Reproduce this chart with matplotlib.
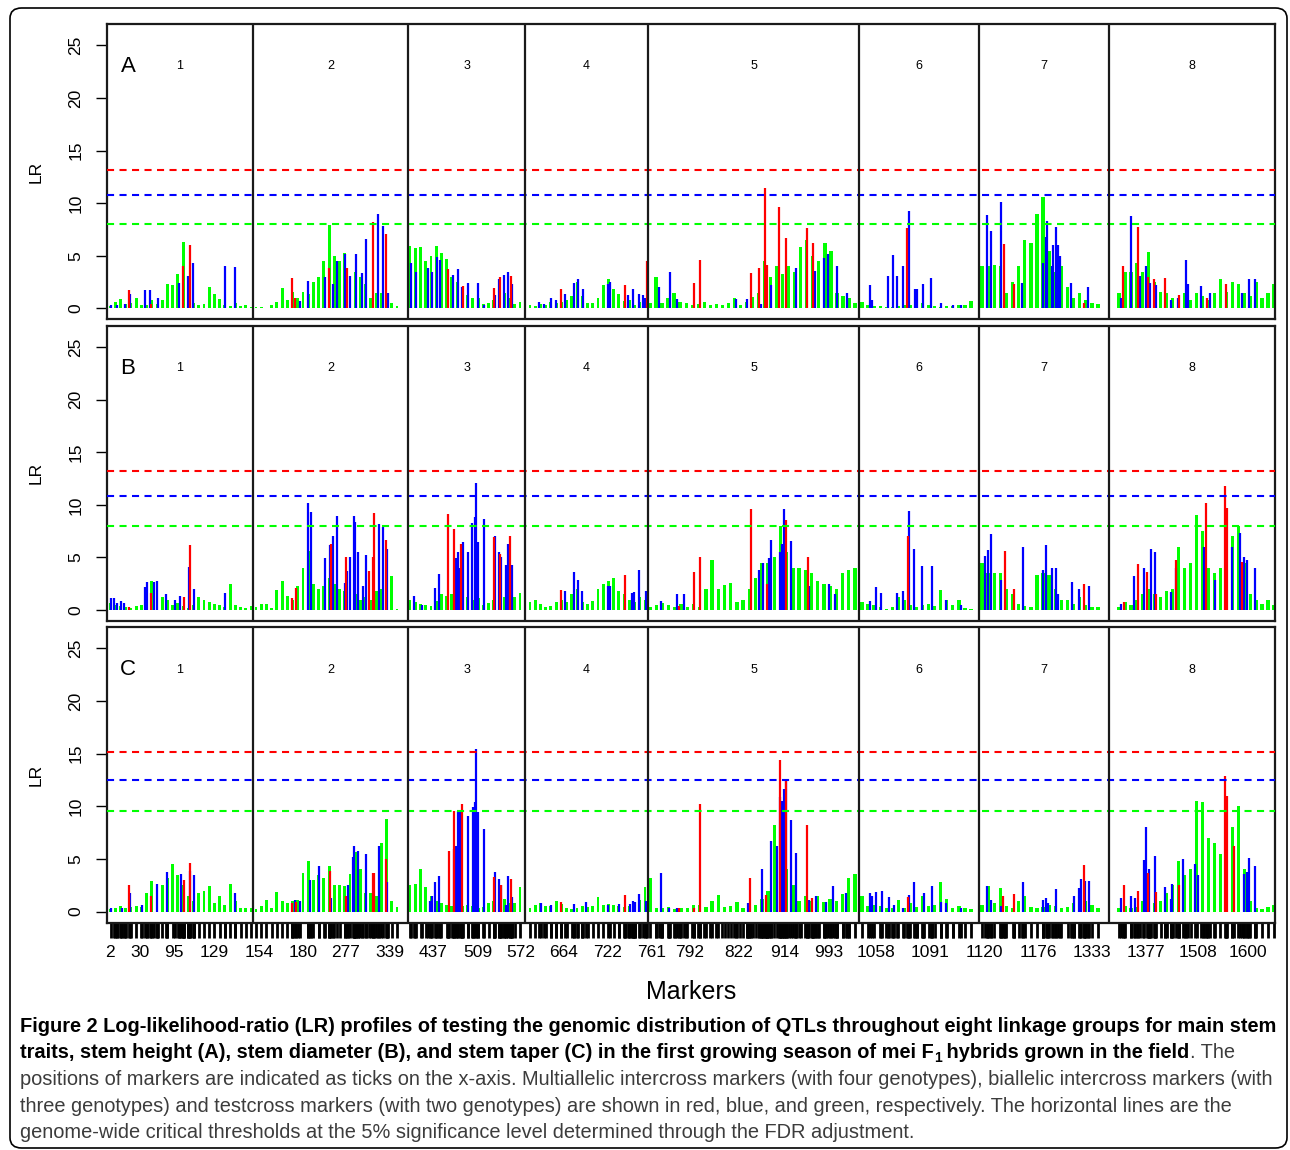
import numpy as np
import matplotlib.pyplot as plt
from matplotlib import font_manager
from matplotlib.patches import FancyBboxPatch

plt.rcParams['font.family'] = ['Liberation Sans', 'DejaVu Sans']

# ---- DATA ----
group_names = ['1', '2', '3', '4', '5', '6', '7', '8']
group_len = [146, 155, 117, 123, 211, 120, 130, 166]
# first / last marker position of each linkage group
green_span = [(3, 144), (149, 290), (303, 413), (423, 538), (543, 748), (755, 864), (875, 991), (1012, 1167)]

thr_AB = [13.2, 10.8, 8.0]   # red, blue, green thresholds (A, B)
thr_C = [15.2, 12.5, 9.6]    # thresholds for C

tick_pos = [3, 33, 67, 107, 152, 196, 239, 283, 326, 371, 414, 457, 501, 545, 583, 632,
            678, 722, 769, 823, 877, 931, 985, 1039, 1091, 1141]
tick_lab = ['2', '30', '95', '129', '154', '180', '277', '339', '437', '509', '572', '664', '722',
            '761', '792', '822', '914', '993', '1058', '1091', '1120', '1176', '1333', '1377',
            '1508', '1600']

# testcross markers (green), LR per group
green_A = [
    [0.2, 0.6, 0.9, 0.4, 0.5, 1.0, 0.3, 0.3, 0.8, 0.4, 0.8, 2.3, 2.2, 3.3, 6.3, 1.5, 0.5, 0.3, 0.4, 2.0, 1.4, 0.9, 0.3, 0.2, 0.5, 0.2, 0.3, 0.1],
    [0.1, 0.1, 0.05, 0.3, 0.6, 1.9, 0.8, 1.6, 1.0, 1.6, 1.4, 2.5, 3.0, 4.5, 7.9, 5.0, 4.5, 5.3, 3.0, 3.5, 3.0, 2.3, 1.0, 1.5, 1.5, 1.5, 0.5, 0.2],
    [5.9, 5.7, 5.8, 4.5, 5.0, 5.9, 5.3, 4.7, 3.0, 2.5, 2.0, 1.3, 1.0, 1.0, 0.4, 0.5, 0.8, 1.5, 1.5, 1.0, 0.4, 0.6],
    [0.3, 0.2, 0.4, 0.3, 0.6, 0.5, 0.6, 0.8, 1.2, 2.5, 1.2, 0.5, 0.5, 1.0, 2.2, 2.8, 1.8, 1.4, 0.7, 0.8, 0.3, 0.6, 0.8],
    [0.5, 3.0, 0.5, 1.0, 1.5, 0.6, 0.5, 0.3, 0.4, 0.6, 0.3, 0.4, 0.3, 0.5, 1.0, 0.3, 0.6, 1.1, 1.5, 4.5, 3.0, 4.0, 3.3, 4.0, 3.5, 5.8, 6.5, 5.0, 4.5, 6.2, 5.5, 1.5, 1.2, 1.0, 0.5],
    [0.6, 0.3, 0.2, 0.2, 0.1, 0.1, 0.2, 0.3, 0.3, 0.3, 0.5, 0.3, 0.2, 0.1, 0.2, 0.2, 0.3, 0.3, 0.7],
    [4.0, 4.0, 4.1, 4.0, 1.5, 2.5, 4.0, 6.5, 6.2, 9.0, 10.6, 5.5, 3.5, 4.0, 2.0, 1.0, 1.5, 0.8, 0.5, 0.4],
    [1.5, 3.5, 3.5, 4.3, 3.5, 5.4, 2.5, 1.6, 1.5, 1.0, 0.8, 1.5, 0.8, 1.5, 1.2, 0.8, 1.5, 2.8, 1.6, 2.5, 2.3, 1.5, 1.2, 2.5, 1.0, 1.5, 2.3],
]
green_B = [
    [0.7, 0.5, 0.4, 0.3, 0.2, 0.4, 0.5, 2.0, 2.8, 2.6, 1.2, 1.0, 0.5, 0.7, 0.4, 0.2, 0.5, 1.2, 1.0, 0.8, 0.6, 0.5, 0.3, 2.5, 0.5, 0.3, 0.2, 0.4],
    [0.3, 0.6, 0.6, 0.2, 1.9, 2.8, 1.3, 1.0, 2.3, 4.0, 5.6, 2.5, 2.0, 2.3, 3.0, 2.5, 2.0, 1.8, 1.5, 1.5, 1.0, 1.2, 1.0, 1.8, 2.0, 2.5, 3.2, 0.1],
    [1.0, 0.8, 0.6, 0.5, 0.4, 0.9, 1.5, 1.3, 1.5, 0.8, 0.7, 1.2, 1.0, 1.1, 0.5, 0.7, 1.0, 1.5, 1.2, 1.1, 1.2, 1.6],
    [0.8, 1.0, 0.6, 0.3, 0.4, 0.8, 1.0, 0.8, 1.5, 2.0, 0.8, 0.6, 0.9, 2.0, 2.5, 2.8, 3.0, 1.8, 1.5, 1.0, 0.8, 1.2, 1.0],
    [0.3, 0.5, 0.7, 0.5, 0.3, 0.6, 0.3, 0.6, 0.3, 2.0, 4.8, 2.0, 2.4, 2.6, 0.8, 1.0, 2.0, 3.0, 4.5, 4.5, 5.0, 8.0, 5.5, 4.0, 4.0, 3.8, 3.5, 2.8, 2.5, 2.3, 2.0, 3.5, 3.8, 4.0],
    [0.8, 0.6, 0.5, 0.3, 0.1, 0.3, 1.2, 1.0, 0.5, 0.3, 0.5, 0.6, 0.4, 1.9, 1.0, 0.5, 1.0, 0.2, 0.1],
    [4.5, 3.5, 3.5, 3.5, 2.0, 1.5, 0.6, 0.4, 0.3, 3.3, 3.5, 3.3, 2.0, 1.0, 1.0, 0.6, 1.2, 0.5, 0.3, 0.3],
    [0.3, 0.8, 0.5, 1.0, 1.5, 2.0, 1.5, 1.2, 1.8, 2.0, 6.0, 4.0, 4.5, 9.0, 7.5, 4.0, 3.5, 4.0, 6.5, 7.0, 8.0, 4.5, 1.5, 1.0, 0.6, 1.0, 0.5],
]
green_C = [
    [0.2, 0.3, 0.5, 0.3, 0.4, 0.5, 0.4, 1.8, 2.9, 1.8, 2.5, 3.2, 4.5, 3.5, 2.5, 1.5, 1.0, 1.8, 2.0, 2.4, 0.8, 1.5, 0.6, 2.6, 1.0, 0.3, 0.3, 0.3],
    [0.2, 0.5, 1.1, 0.3, 1.9, 1.0, 0.8, 1.0, 1.1, 3.7, 4.8, 3.0, 3.5, 3.2, 4.3, 2.5, 2.5, 2.4, 3.6, 5.7, 4.0, 1.8, 1.8, 1.5, 6.5, 8.8, 1.0, 0.4],
    [2.5, 2.6, 4.0, 2.3, 1.5, 1.0, 0.8, 0.6, 0.5, 0.8, 0.5, 0.6, 0.5, 0.3, 0.4, 0.8, 1.0, 0.6, 1.2, 0.8, 0.8, 2.3],
    [0.3, 0.6, 0.8, 0.5, 0.5, 1.0, 0.7, 0.3, 0.2, 0.3, 0.5, 0.4, 0.5, 1.4, 0.6, 0.7, 0.6, 0.5, 0.4, 0.5, 0.8, 1.1, 2.3],
    [3.2, 0.3, 0.3, 0.4, 0.2, 0.3, 0.3, 0.6, 0.6, 0.4, 1.0, 1.6, 0.4, 0.5, 0.9, 0.3, 0.5, 0.6, 1.2, 2.0, 8.2, 6.0, 4.0, 2.5, 1.0, 1.5, 1.0, 1.5, 0.9, 1.2, 1.0, 1.7, 3.2, 3.6],
    [1.5, 0.5, 0.6, 0.5, 0.3, 0.3, 1.1, 0.3, 0.8, 0.4, 1.5, 0.5, 0.6, 2.8, 1.2, 0.3, 0.5, 0.3, 0.2],
    [0.6, 2.4, 0.8, 2.2, 0.5, 0.3, 1.0, 1.5, 0.4, 0.3, 0.4, 0.6, 0.5, 0.3, 0.4, 0.8, 1.2, 1.0, 0.6, 0.3],
    [0.3, 0.5, 0.3, 0.4, 1.0, 1.5, 0.8, 1.0, 1.8, 2.5, 4.8, 3.5, 4.0, 10.5, 10.4, 7.0, 6.5, 5.5, 6.5, 8.0, 10.0, 4.0, 1.0, 0.3, 0.2, 0.4, 0.6],
]

# biallelic intercross markers (blue): (position, LR)
blue_A = [(4, 0.3), (10, 0.3), (18, 0.4), (23, 1.4), (38, 1.7), (43, 1.7), (51, 1.0), (72, 2.4), (81, 3.1), (86, 4.3), (118, 4.0), (128, 3.9),
          (193, 0.7), (201, 2.6), (218, 3.0), (226, 2.3), (230, 4.5), (238, 5.2), (243, 3.1), (249, 5.2), (255, 3.4), (259, 6.6), (271, 9.0), (276, 7.8), (281, 1.5),
          (304, 4.3), (309, 3.5), (321, 3.8), (325, 3.5), (330, 4.9), (333, 4.6), (346, 3.2), (351, 3.7), (355, 2.0), (361, 2.4), (371, 2.4), (377, 0.3), (388, 1.3), (392, 2.8), (397, 3.2), (401, 3.5), (405, 2.3),
          (432, 0.6), (437, 0.4), (444, 1.0), (449, 0.8), (458, 1.4), (467, 2.4), (471, 2.8), (476, 1.8), (501, 2.3), (503, 2.5), (521, 1.3), (526, 1.8), (532, 1.4), (536, 1.3), (538, 1.0),
          (552, 2.0), (563, 3.5), (570, 0.9), (629, 0.9), (640, 0.9), (654, 0.4), (664, 2.2), (689, 3.8), (708, 3.6), (717, 4.8), (721, 5.2), (730, 4.0), (740, 1.5),
          (763, 2.2), (765, 0.8), (781, 3.1), (786, 5.1), (790, 3.1), (796, 4.0), (802, 9.3), (808, 1.8), (810, 1.8), (816, 2.3), (824, 2.9), (834, 0.5), (846, 0.3), (854, 0.3),
          (880, 8.9), (884, 7.4), (894, 10.1), (915, 2.4), (936, 4.3), (939, 6.8), (940, 8.3), (945, 4.0), (946, 6.0), (949, 7.7), (951, 6.0), (953, 5.0), (964, 2.4), (981, 2.0),
          (1014, 1.0), (1024, 8.8), (1033, 3.1), (1039, 4.0), (1043, 2.4), (1049, 2.2), (1064, 0.8), (1071, 1.0), (1079, 4.6), (1081, 2.3), (1094, 2.1), (1103, 1.5), (1135, 1.5), (1142, 2.8), (1148, 2.8)]
blue_B = [(4, 1.1), (7, 1.1), (9.5, 0.7), (13.6, 0.9), (17, 0.7), (38, 2.2), (40, 2.7), (47, 2.7), (50, 2.8), (59, 1.5), (67.5, 1.0), (73, 1.3), (82, 4.1), (87, 2.0), (118, 1.6),
          (201, 10.2), (204, 9.3), (218, 4.9), (223, 6.2), (226, 7.0), (230, 8.9), (238, 2.6), (240, 3.7), (243, 5.0), (246.5, 8.9), (248, 8.4), (251, 5.5), (256, 2.3), (259, 5.2), (272, 8.2), (276, 7.9), (279.5, 5.8),
          (307, 1.3), (315, 0.5), (328, 2.1), (332, 3.4), (349, 4.9), (351, 5.5), (352.5, 4.0), (356, 6.5), (361, 5.5), (365, 8.3), (367.5, 8.8), (369, 12.1), (371, 6.5), (377, 8.7), (388, 7.0), (391.5, 5.5), (394, 5.0), (399, 4.3), (401, 6.3), (405, 4.3),
          (458, 1.8), (466.5, 3.6), (471, 2.9), (475, 1.8), (501, 2.3), (503, 2.3), (525, 1.6), (527, 1.7), (532, 3.8), (538.5, 1.8),
          (554, 0.9), (570, 1.5), (576.5, 1.5), (652, 3.8), (655.5, 4.5), (661.5, 4.9), (663.6, 6.7), (673, 5.5), (675, 6.3), (676.5, 9.6), (684, 6.6), (702, 2.3), (722, 2.5), (728, 1.5),
          (763, 0.9), (769, 2.2), (774, 1.6), (790, 1.6), (796, 1.8), (802, 9.4), (807, 5.8), (815, 4.2), (825, 4.2), (838.5, 1.0), (854, 0.5),
          (878, 5.1), (880.6, 5.7), (883.5, 7.2), (893.6, 2.9), (915.5, 6.0), (935.7, 3.8), (939, 6.2), (945, 4.0), (949, 4.0), (951, 1.5), (965, 2.7), (972, 2.0), (981.5, 2.3),
          (1014, 0.6), (1027, 3.2), (1037, 4.0), (1044, 5.8), (1047.5, 5.5), (1064, 1.7), (1069, 4.0), (1097, 6.0), (1108, 2.9), (1124.5, 6.0), (1133, 7.3), (1136.6, 5.0), (1140, 4.8), (1147.5, 4.0)]
blue_C = [(4, 0.3), (15, 0.3), (23, 1.8), (34.5, 0.6), (49.5, 2.6), (60, 3.8), (74, 3.6), (82.5, 3.9), (86.6, 3.5), (128, 1.8),
          (188, 1.1), (193, 1.0), (203, 3.0), (212, 4.3), (224, 1.3), (241, 2.5), (245.5, 5.2), (247, 6.2), (250.7, 5.8), (258.7, 5.5), (272, 6.2), (279.5, 2.8),
          (323, 1.0), (325, 1.5), (328, 2.8), (332, 3.4), (347, 5.9), (349, 6.2), (351, 9.6), (352.5, 9.6), (354, 7.4), (361, 9.1), (366, 9.9), (367.5, 10.4), (369, 15.4), (370.6, 9.5), (377, 7.8), (388, 3.8), (392, 3.1), (394, 2.5), (398.8, 0.6), (401, 3.4), (404.7, 1.4),
          (433.5, 0.8), (444, 0.6), (466.5, 0.7), (479, 0.9), (501, 0.6), (511.7, 0.7), (523, 0.7), (525.6, 1.0), (528, 0.9), (532, 1.7), (538.5, 1.0),
          (554, 3.7), (562, 0.3), (570, 0.3), (640.5, 0.8), (654.6, 4.0), (663.6, 6.7), (669.6, 6.2), (673, 10.9), (675, 10.5), (677, 11.6), (678.5, 12.5), (684, 8.7), (688.7, 5.6), (702, 1.1), (709, 1.5), (719.4, 0.9), (726, 2.4), (738.5, 1.8),
          (763, 1.8), (765, 1.5), (769, 1.9), (775, 2.0), (782, 1.4), (787, 0.6), (796, 0.3), (802, 1.6), (807, 2.8), (816.7, 1.8), (824.7, 2.4), (833.6, 0.9), (838.5, 0.8), (854, 0.3),
          (880, 2.4), (884, 1.1), (893.6, 0.5), (915.5, 2.8), (935.7, 1.1), (939, 1.3), (941, 0.8), (949, 2.1), (967, 1.5), (972, 2.2), (974, 3.1), (977.5, 2.9), (981.5, 2.9),
          (1014, 1.3), (1024, 1.5), (1028, 1.3), (1037, 4.9), (1039, 8.0), (1042, 4.0), (1047.5, 5.3), (1057.6, 2.3), (1063.7, 1.2), (1065, 2.6), (1076, 5.0), (1088, 4.5), (1091, 3.5), (1136.6, 3.6), (1139.5, 3.8), (1142, 5.1), (1147.5, 4.3)]

# multiallelic intercross markers (red): (position, LR)
red_A = [(22, 1.75), (44, 0.4), (76, 4.0), (83, 6.0),
         (185, 2.9), (188, 1.0), (222, 3.8), (240, 3.8), (266, 8.2), (279, 7.1),
         (341, 3.7), (356, 2.1), (387, 1.9), (393, 3.0), (404, 3.1),
         (454, 1.8), (518, 2.2), (540, 4.5),
         (587, 2.4), (593, 4.6), (644, 3.4), (652, 3.8), (658, 11.4), (660, 4.1), (672, 9.6), (679, 6.7), (700, 7.6), (706, 6.2),
         (800, 7.6),
         (897, 6.1), (907, 2.3), (977, 0.5),
         (1016, 4.0), (1031, 7.7), (1041, 3.0), (1047, 2.8), (1058, 2.9), (1072, 1.3), (1100, 1.0), (1119, 2.3)]
red_B = [(22, 0.3), (44, 1.6), (77, 1.2), (83, 6.2),
         (185, 1.1), (189, 2.1), (224, 6.3), (239, 5.0), (262, 3.7), (265.6, 5.0), (267, 9.2), (279, 6.7),
         (341.4, 9.1), (346.6, 7.7), (354, 6.3), (386.6, 6.9), (393, 5.3), (403, 7.0),
         (454, 1.9), (517.6, 3.3),
         (571.6, 0.4), (587, 3.6), (592.7, 5.0), (644, 9.6), (659.5, 2.5), (678.5, 8.6), (701, 5.0),
         (800.5, 7.0),
         (897.7, 5.6), (906.6, 2.0), (976.6, 2.5),
         (1016.7, 0.8), (1031, 4.4), (1040, 3.6), (1049, 1.5), (1069, 4.8), (1099, 10.2), (1118, 11.8), (1120, 9.7), (1135, 4.6)]
red_C = [(22, 2.5), (44, 1.5), (76.5, 3.0), (83, 4.6),
         (184.7, 0.8), (189, 0.9), (223, 3.9), (239, 1.5), (265.6, 3.7), (267, 3.7), (279, 5.0),
         (342, 5.8), (346.6, 9.6), (355, 10.2), (386.6, 3.3), (393.5, 2.5), (404, 3.1),
         (454, 0.9), (517.6, 1.6),
         (571.6, 0.3), (587, 0.3), (592.7, 10.2), (643, 3.2), (658.7, 1.6), (672.5, 14.4), (679, 12.5), (700, 8.2), (705, 1.3),
         (800.5, 1.4),
         (896, 1.5), (906.6, 1.7), (976.6, 4.4),
         (1016.7, 2.5), (1031, 2.0), (1041, 3.7), (1049, 1.9), (1072, 2.5), (1118, 12.9), (1120, 11.0), (1127, 6.2)]

RED, BLUE, GREEN = '#FF0000', '#0000FF', '#00FF00'

W, H = 1290, 1150
fig = plt.figure(figsize=(W / 100, H / 100), dpi=100)

bounds = np.cumsum([0] + group_len)
panel_px = [(24, 319.3), (325.5, 621), (627, 922.5)]
panels = [('A', green_A, blue_A, red_A, thr_AB),
          ('B', green_B, blue_B, red_B, thr_AB),
          ('C', green_C, blue_C, red_C, thr_C)]

rug = []
for i, (letter, green, blue, red, thr) in enumerate(panels):
    top, bot = panel_px[i]
    ax = fig.add_axes([107 / W, 1 - bot / H, 1168 / W, (bot - top) / H])
    ax.set_xlim(0, bounds[-1])
    ax.set_ylim(-1.04, 27.04)

    for g in range(8):
        s, e = green_span[g]
        xs = np.linspace(s, e, len(green[g]))
        w = (e - s) / (len(green[g]) - 1)
        ax.bar(xs, green[g], width=w * 0.55, color=GREEN, linewidth=0, zorder=2)
        rug.extend(xs)
    bx, bh = zip(*blue)
    ax.vlines(bx, 0, bh, color=BLUE, lw=1.6, zorder=3)
    rx, rh = zip(*red)
    ax.vlines(rx, 0, rh, color=RED, lw=1.6, zorder=4)
    rug.extend(bx)
    rug.extend(rx)

    for t, c in zip(thr, [RED, BLUE, GREEN]):
        ax.axhline(t, color=c, lw=1.5, ls=(0, (3.4, 2.6)), zorder=5)
    for b in bounds[1:-1]:
        ax.axvline(b, color='#1a1a1a', lw=1.6, zorder=6)
    for g in range(8):
        ax.text((bounds[g] + bounds[g + 1]) / 2, 23, group_names[g], ha='center', va='center', fontsize=9)
    ax.text(21, 23, letter, ha='center', va='center', fontsize=16)

    for sp in ax.spines.values():
        sp.set_linewidth(1.6)
        sp.set_color('#1a1a1a')
    ax.set_yticks([0, 5, 10, 15, 20, 25])
    ax.tick_params(axis='y', length=8, width=1, pad=9, labelsize=12.5)
    for lab in ax.get_yticklabels():
        lab.set_rotation(90)
        lab.set_va('center')
    ax.set_ylabel('LR', fontsize=12.5)
    ax.yaxis.set_label_coords(-0.054, 0.5)

    if letter != 'C':
        ax.set_xticks([])
    else:
        ax.set_xticks(tick_pos)
        ax.set_xticklabels(tick_lab)
        ax.set_xticks(sorted(set(np.round(rug, 1))), minor=True)
        ax.tick_params(axis='x', which='major', length=0, pad=16, labelsize=12.5)
        ax.tick_params(axis='x', which='minor', length=11, width=2.0, color='black')

fig.text(691 / W, 1 - 992 / H, 'Markers', ha='center', va='center', fontsize=18)

# outer frame
frame = FancyBboxPatch((10 / W, 1 - 1148 / H), 1277 / W, 1140 / H,
                       boxstyle='round,pad=0,rounding_size=0.009', transform=fig.transFigure,
                       fill=False, lw=1.2, edgecolor='black')
fig.patches.append(frame)

# caption
names = {f.name for f in font_manager.fontManager.ttflist}
cap_font = 'Liberation Sans Narrow' if 'Liberation Sans Narrow' in names else 'Liberation Sans'
renderer = fig.canvas.get_renderer()

line1 = ('Figure 2 Log-likelihood-ratio (LR) profiles of testing the genomic distribution of QTLs '
         'throughout eight linkage groups for main stem')
t1 = fig.text(20 / W, 1 - 1032 / H, line1, fontfamily=cap_font, fontweight='bold', fontsize=14, va='baseline')
wpx = t1.get_window_extent(renderer).width
fs = 14 * 1258 / wpx
t1.set_fontsize(fs)

def put(x, y, s, bold, size, color):
    t = fig.text(x / W, 1 - y / H, s, fontfamily=cap_font, fontweight='bold' if bold else 'normal',
                 fontsize=size, va='baseline', color=color)
    return t.get_window_extent(renderer).x1

x = 20
x = put(x, 1058, 'traits, stem height (A), stem diameter (B), and stem taper (C) in the first growing season of mei F', True, fs, 'black')
x = put(x, 1062, '1', True, fs * 0.7, 'black')
x = put(x, 1058, ' hybrids grown in the field', True, fs, 'black')
put(x, 1058, '. The', False, fs, '#3c3c3c')

rest = ['positions of markers are indicated as ticks on the x-axis. Multiallelic intercross markers (with four genotypes), biallelic intercross markers (with',
        'three genotypes) and testcross markers (with two genotypes) are shown in red, blue, and green, respectively. The horizontal lines are the',
        'genome-wide critical thresholds at the 5% significance level determined through the FDR adjustment.']
for k, s in enumerate(rest):
    put(20, 1085 + 26.5 * k, s, False, fs, '#3c3c3c')

fig.savefig('out.png', dpi=100)
